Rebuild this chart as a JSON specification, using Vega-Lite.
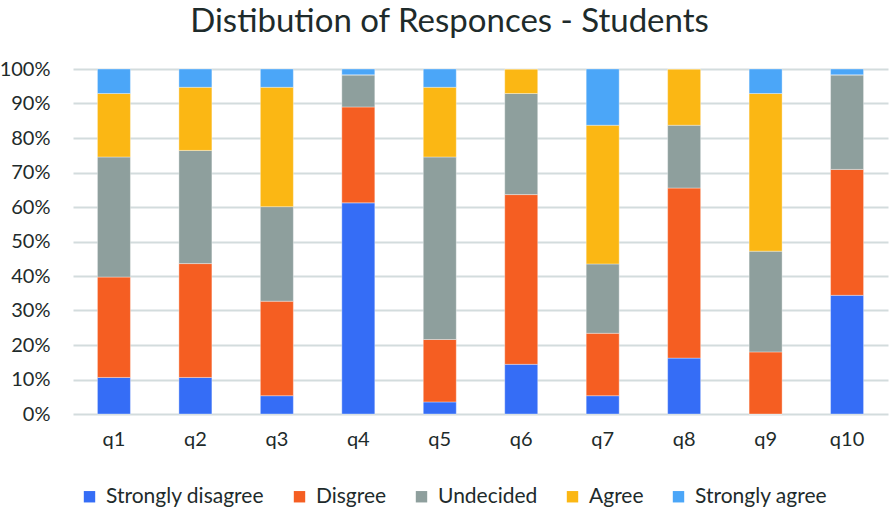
{
  "$schema": "https://vega.github.io/schema/vega-lite/v6.json",
  "width": 815,
  "height": 345,
  "autosize": "none",
  "padding": {"left": 73, "top": 69, "right": 4, "bottom": 97},
  "background": "white",
  "title": {
    "text": "Distibution of Responces - Students",
    "font": "Lato",
    "fontSize": 33,
    "fontWeight": "normal",
    "color": "#1E2B2B",
    "anchor": "middle",
    "frame": "group",
    "offset": 20,
    "dx": -31
  },
  "data": {
    "values": [
      {"q": "q1", "response": "Strongly disagree", "rank": 1, "value": 10.6},
      {"q": "q1", "response": "Disgree", "rank": 2, "value": 29.1},
      {"q": "q1", "response": "Undecided", "rank": 3, "value": 34.8},
      {"q": "q1", "response": "Agree", "rank": 4, "value": 18.4},
      {"q": "q1", "response": "Strongly agree", "rank": 5, "value": 7.1},
      {"q": "q2", "response": "Strongly disagree", "rank": 1, "value": 10.6},
      {"q": "q2", "response": "Disgree", "rank": 2, "value": 33.0},
      {"q": "q2", "response": "Undecided", "rank": 3, "value": 32.8},
      {"q": "q2", "response": "Agree", "rank": 4, "value": 18.3},
      {"q": "q2", "response": "Strongly agree", "rank": 5, "value": 5.3},
      {"q": "q3", "response": "Strongly disagree", "rank": 1, "value": 5.3},
      {"q": "q3", "response": "Disgree", "rank": 2, "value": 27.4},
      {"q": "q3", "response": "Undecided", "rank": 3, "value": 27.4},
      {"q": "q3", "response": "Agree", "rank": 4, "value": 34.6},
      {"q": "q3", "response": "Strongly agree", "rank": 5, "value": 5.3},
      {"q": "q4", "response": "Strongly disagree", "rank": 1, "value": 61.2},
      {"q": "q4", "response": "Disgree", "rank": 2, "value": 27.8},
      {"q": "q4", "response": "Undecided", "rank": 3, "value": 9.3},
      {"q": "q4", "response": "Agree", "rank": 4, "value": 0},
      {"q": "q4", "response": "Strongly agree", "rank": 5, "value": 1.7},
      {"q": "q5", "response": "Strongly disagree", "rank": 1, "value": 3.5},
      {"q": "q5", "response": "Disgree", "rank": 2, "value": 18.1},
      {"q": "q5", "response": "Undecided", "rank": 3, "value": 52.9},
      {"q": "q5", "response": "Agree", "rank": 4, "value": 20.2},
      {"q": "q5", "response": "Strongly agree", "rank": 5, "value": 5.3},
      {"q": "q6", "response": "Strongly disagree", "rank": 1, "value": 14.4},
      {"q": "q6", "response": "Disgree", "rank": 2, "value": 49.2},
      {"q": "q6", "response": "Undecided", "rank": 3, "value": 29.3},
      {"q": "q6", "response": "Agree", "rank": 4, "value": 7.1},
      {"q": "q6", "response": "Strongly agree", "rank": 5, "value": 0},
      {"q": "q7", "response": "Strongly disagree", "rank": 1, "value": 5.3},
      {"q": "q7", "response": "Disgree", "rank": 2, "value": 18.1},
      {"q": "q7", "response": "Undecided", "rank": 3, "value": 20.1},
      {"q": "q7", "response": "Agree", "rank": 4, "value": 40.2},
      {"q": "q7", "response": "Strongly agree", "rank": 5, "value": 16.3},
      {"q": "q8", "response": "Strongly disagree", "rank": 1, "value": 16.2},
      {"q": "q8", "response": "Disgree", "rank": 2, "value": 49.3},
      {"q": "q8", "response": "Undecided", "rank": 3, "value": 18.2},
      {"q": "q8", "response": "Agree", "rank": 4, "value": 16.3},
      {"q": "q8", "response": "Strongly agree", "rank": 5, "value": 0},
      {"q": "q9", "response": "Strongly disagree", "rank": 1, "value": 0},
      {"q": "q9", "response": "Disgree", "rank": 2, "value": 18.0},
      {"q": "q9", "response": "Undecided", "rank": 3, "value": 29.2},
      {"q": "q9", "response": "Agree", "rank": 4, "value": 45.7},
      {"q": "q9", "response": "Strongly agree", "rank": 5, "value": 7.1},
      {"q": "q10", "response": "Strongly disagree", "rank": 1, "value": 34.4},
      {"q": "q10", "response": "Disgree", "rank": 2, "value": 36.5},
      {"q": "q10", "response": "Undecided", "rank": 3, "value": 27.4},
      {"q": "q10", "response": "Agree", "rank": 4, "value": 0},
      {"q": "q10", "response": "Strongly agree", "rank": 5, "value": 1.7}
    ]
  },
  "mark": {"type": "bar", "stroke": "#FFFFFF", "strokeOpacity": 0.35, "strokeWidth": 1},
  "encoding": {
    "x": {
      "field": "q",
      "type": "nominal",
      "sort": ["q1","q2","q3","q4","q5","q6","q7","q8","q9","q10"],
      "scale": {"paddingInner": 0.595, "paddingOuter": 0.3},
      "axis": {
        "title": null,
        "labelAngle": 0,
        "labelFont": "Lato",
        "labelFontSize": 20,
        "labelColor": "#1E2B2B",
        "labelPadding": 15,
        "ticks": false,
        "domain": false
      }
    },
    "y": {
      "field": "value",
      "type": "quantitative",
      "stack": "normalize",
      "scale": {"domain": [0, 1]},
      "axis": {
        "title": null,
        "values": [0, 0.1, 0.2, 0.3, 0.4, 0.5, 0.6, 0.7, 0.8, 0.9, 1],
        "format": ".0%",
        "labelFont": "Lato",
        "labelFontSize": 20,
        "labelColor": "#1E2B2B",
        "labelPadding": 23,
        "ticks": false,
        "domain": false,
        "grid": true,
        "gridColor": "#D3DCDD",
        "gridWidth": 2
      }
    },
    "color": {
      "field": "response",
      "type": "nominal",
      "sort": ["Strongly disagree", "Disgree", "Undecided", "Agree", "Strongly agree"],
      "scale": {
        "domain": ["Strongly disagree", "Disgree", "Undecided", "Agree", "Strongly agree"],
        "range": ["#356DF6", "#F55E22", "#8E9F9D", "#FBB714", "#4BA6F8"]
      },
      "legend": {
        "title": null,
        "orient": "none",
        "direction": "horizontal",
        "legendX": 6,
        "legendY": 417,
        "symbolType": "square",
        "symbolSize": 130,
        "symbolStrokeWidth": 0,
        "labelFont": "Lato",
        "labelFontSize": 21,
        "labelColor": "#1E2B2B",
        "labelOffset": 6,
        "columnPadding": 24,
        "labelLimit": 300
      }
    },
    "order": {"field": "rank", "type": "quantitative", "sort": "ascending"}
  },
  "config": {"view": {"stroke": null}}
}
